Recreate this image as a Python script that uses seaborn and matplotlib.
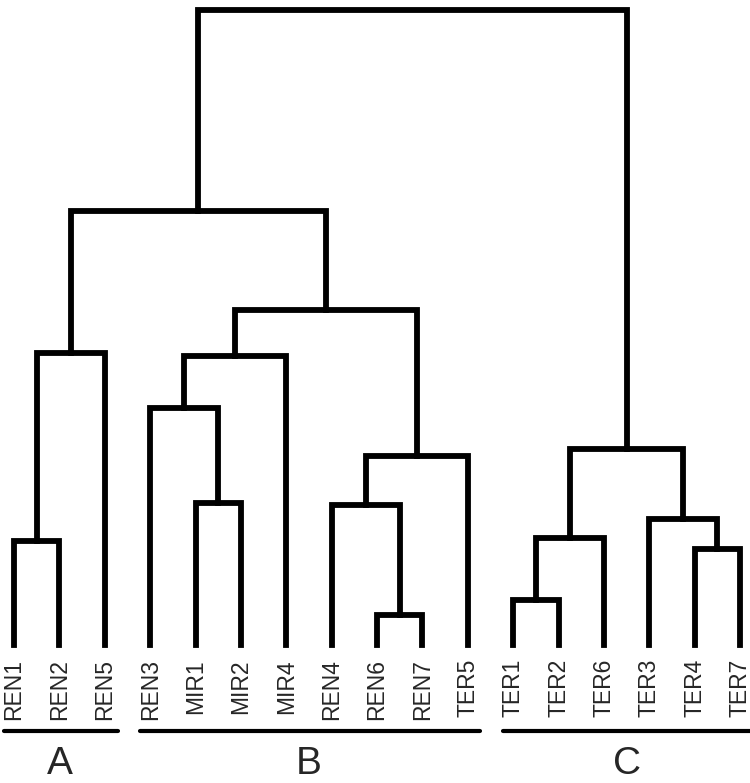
import pandas as pd
import matplotlib.pyplot as plt
import seaborn as sns

# hojas del dendrograma (orden de izquierda a derecha)
leaves = ["REN1", "REN2", "REN5", "REN3", "MIR1", "MIR2", "MIR4", "REN4", "REN6",
          "REN7", "TER5", "TER1", "TER2", "TER6", "TER3", "TER4", "TER7"]

# uniones: ids 0..16 son hojas, 17+ son clusters en el orden de esta lista
merge_left = [8, 11, 15, 0, 18, 14, 7, 4, 23, 21, 3, 27, 20, 28, 29, 31]
merge_right = [9, 12, 16, 1, 13, 19, 17, 5, 10, 22, 24, 6, 2, 25, 30, 26]
merge_height = [30, 45, 96, 104, 107, 126, 140, 142, 189, 196, 237, 289, 292, 335, 434, 635]

# grupos
group_names = ["A", "B", "C"]
group_first = [0, 3, 11]
group_last = [2, 10, 16]

sns.set_theme(style="white")
plt.rcParams['font.family'] = ['Liberation Sans', 'DejaVu Sans']

fig = plt.figure(figsize=(7.5, 7.83), dpi=100)
ax = fig.add_axes([0, 0, 1, 1])

xpos = {i: float(i) for i in range(len(leaves))}
ypos = {i: 0.0 for i in range(len(leaves))}
rows = []
for k, (l, r, h) in enumerate(zip(merge_left, merge_right, merge_height)):
    node = len(leaves) + k
    for px, py in [(xpos[l], ypos[l]), (xpos[l], h), (xpos[r], h), (xpos[r], ypos[r])]:
        rows.append({"link": k, "x": px, "y": py})
    xpos[node] = (xpos[l] + xpos[r]) / 2
    ypos[node] = h
df = pd.DataFrame(rows)

sns.lineplot(data=df, x="x", y="y", units="link", estimator=None, sort=False,
             color="black", lw=4.2, solid_capstyle="projecting",
             solid_joinstyle="miter", ax=ax, legend=False)

for i, name in enumerate(leaves):
    ax.text(i, -14, name, rotation=90, ha="center", va="top", fontsize=16.5)

for g, a, b in zip(group_names, group_first, group_last):
    ax.plot([a - 0.22, b + 0.28], [-86, -86], color="black", lw=3)
    ax.text((a + b) / 2, -119, g, ha="center", va="center", fontsize=28)

ax.set_xlim(-0.31, 16.22)
ax.set_ylim(-138, 645)
ax.axis("off")

plt.savefig("out.png", dpi=100)
